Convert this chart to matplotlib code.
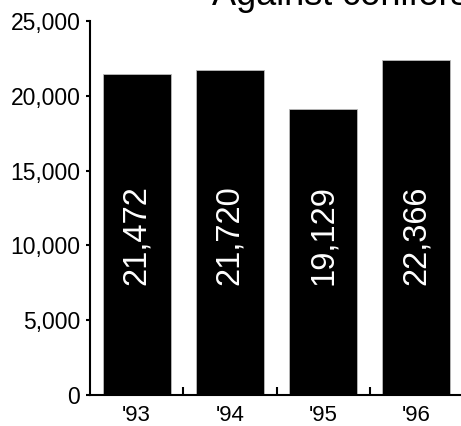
import numpy as np
import matplotlib
matplotlib.use("Agg")
import matplotlib.pyplot as plt
from matplotlib.ticker import FuncFormatter

plt.rcParams['font.family'] = ['Liberation Sans', 'DejaVu Sans']

years = ["'93", "'94", "'95", "'96"]
acres = [21472, 21720, 19129, 22366]
yticks = [0, 5000, 10000, 15000, 20000, 25000]
title = "Against conifers"

fig = plt.figure(figsize=(4.61, 4.26), dpi=100)
ax = fig.add_axes([90 / 461, 1 - 395 / 426, 373 / 461, 374 / 426])

x = np.arange(len(years))
ax.bar(x, acres, width=0.73, color="black", edgecolor="#bbbbbb", linewidth=0.6)

# value labels sit at one common height inside the bars
for xi, v in zip(x, acres):
    ax.text(xi, 10700, "{:,}".format(v), rotation=90, color="white",
            ha="center", va="center", fontsize=23.5)

ax.set_xlim(-0.5, 3.5)
ax.set_ylim(0, 25000)
ax.set_yticks(yticks)
ax.yaxis.set_major_formatter(FuncFormatter(lambda v, p: "{:,}".format(int(v))))
ax.tick_params(axis="y", direction="out", length=3, width=1.5, pad=4,
               labelsize=16.5)

ax.set_xticks(x)
ax.set_xticklabels(years)
ax.set_xticks(x[:-1] + 0.5, minor=True)
ax.tick_params(axis="x", which="major", length=0, pad=7, labelsize=16)
ax.tick_params(axis="x", which="minor", direction="in", length=6, width=1.5)

for side in ["top", "right"]:
    ax.spines[side].set_visible(False)
for side in ["left", "bottom"]:
    ax.spines[side].set_linewidth(1.5)

fig.text(212 / 461, 1 - 5 / 426, title, fontsize=26, va="baseline", ha="left")

fig.savefig("out.png", dpi=100)
